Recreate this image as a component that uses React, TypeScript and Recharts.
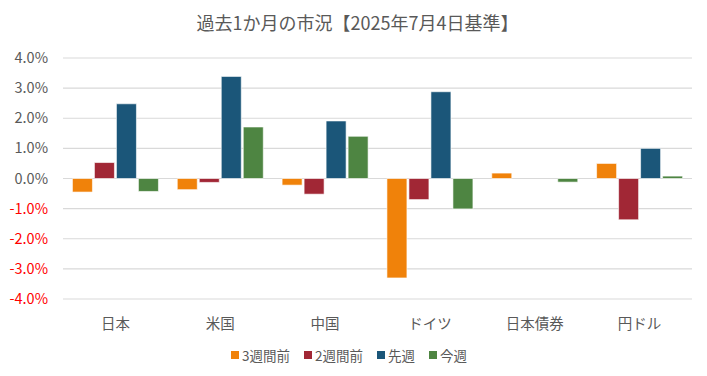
import { BarChart, Bar, XAxis, YAxis, CartesianGrid, Legend } from 'recharts'

const categories = ['日本', '米国', '中国', 'ドイツ', '日本債券', '円ドル']
const week3 = [-0.45, -0.37, -0.22, -3.3, 0.18, 0.5]
const week2 = [0.53, -0.13, -0.52, -0.7, 0, -1.37]
const lastWeek = [2.48, 3.39, 1.91, 2.88, 0, 1.0]
const thisWeek = [-0.43, 1.71, 1.4, -1.01, -0.12, 0.08]
const yTicks = [-4, -3, -2, -1, 0, 1, 2, 3, 4]

const series = [
  { key: 'w3', name: '3週間前', color: '#F0820A' },
  { key: 'w2', name: '2週間前', color: '#A12735' },
  { key: 'lw', name: '先週', color: '#1B5679' },
  { key: 'tw', name: '今週', color: '#4E8542' },
]

const data = categories.map((name, i) => ({
  name,
  w3: week3[i],
  w2: week2[i],
  lw: lastWeek[i],
  tw: thisWeek[i],
}))

const FONT = '"Noto Sans CJK JP", "Noto Sans", sans-serif'

const YTick = ({ x, y, payload }: { x?: number; y?: number; payload?: { value: number } }) => {
  const v = payload?.value ?? 0
  return (
    <text x={(x ?? 0) - 7} y={y} dy={5} textAnchor="end" fontSize={14.5} fontFamily={FONT}
      fill={v < 0 ? '#FF0000' : '#595959'}>
      {v.toFixed(1)}%
    </text>
  )
}

const LegendContent = () => (
  <div style={{ display: 'flex', justifyContent: 'center', gap: 14, fontFamily: FONT, fontSize: 13.5, color: '#595959', marginTop: 2, paddingLeft: 6 }}>
    {series.map((s) => (
      <span key={s.key} style={{ display: 'flex', alignItems: 'center' }}>
        <span style={{ width: 8, height: 8, background: s.color, marginRight: 3, display: 'inline-block' }} />
        {s.name}
      </span>
    ))}
  </div>
)

export default function App() {
  return (
    <div style={{ position: 'absolute', left: 0, top: 0, width: 707, height: 376, background: '#fff' }}>
      <div style={{ position: 'absolute', top: 9, width: '100%', textAlign: 'center', fontFamily: FONT, fontSize: 18, color: '#595959', paddingLeft: 4 }}>
        過去1か月の市況【2025年7月4日基準】
      </div>
      <BarChart width={707} height={376} data={data}
        margin={{ top: 58, right: 15, left: 0, bottom: 0 }}
        barCategoryGap="9%" barGap={2}>
        <CartesianGrid vertical={false} stroke="#D9D9D9" strokeWidth={1.2} />
        <XAxis dataKey="name" axisLine={false} tickLine={false} height={44}
          tick={{ fontSize: 14.5, fill: '#595959', fontFamily: FONT }} tickMargin={14} />
        <YAxis domain={[-4, 4]} ticks={yTicks} axisLine={false} tickLine={false}
          width={63} tick={<YTick />} interval={0} />
        <Legend verticalAlign="bottom" height={33} content={<LegendContent />} />
        {series.map((s) => (
          <Bar key={s.key} dataKey={s.key} name={s.name} fill={s.color}
            stroke="#ffffff" strokeOpacity={0.6} strokeWidth={1} isAnimationActive={false} />
        ))}
      </BarChart>
    </div>
  )
}
